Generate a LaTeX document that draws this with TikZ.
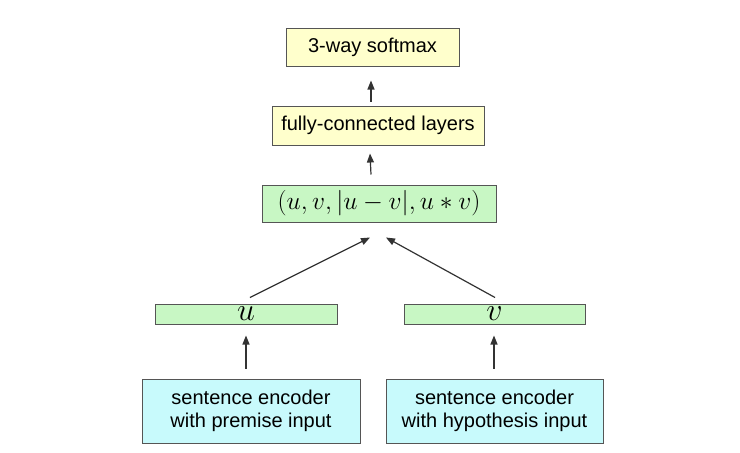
\RequirePackage{fix-cm}
\documentclass[tikz,border=0pt]{standalone}
\usepackage{fontspec}
\setmainfont{Liberation Sans}
\usetikzlibrary{arrows.meta}
\definecolor{boxyellow}{HTML}{FFFFCC}
\definecolor{boxgreen}{HTML}{C8F7C4}
\definecolor{boxcyan}{HTML}{C8FAFC}
\definecolor{edgegray}{HTML}{555555}
\definecolor{arrgray}{HTML}{333333}
\begin{document}
\begin{tikzpicture}[x=1pt,y=-1pt,
  box/.style={draw=edgegray, line width=1pt, inner sep=0pt, align=center,
    font=\fontsize{20}{23}\selectfont},
  ybox/.style={box, fill=boxyellow},
  gbox/.style={box, fill=boxgreen},
  cbox/.style={box, fill=boxcyan},
  arr/.style={draw=arrgray, line width=1.2pt, -{Triangle[length=9pt,width=7pt]}}]
\useasboundingbox[fill=white] (0,0) rectangle (740,453);
\node[ybox, minimum width=173pt, minimum height=38pt] (softmax) at (372.5,47) {3-way softmax};
\node[ybox, minimum width=212pt, minimum height=39pt] (fc) at (378,125.5) {fully-connected layers};
\node[gbox, minimum width=234pt, minimum height=37pt, font=\fontsize{25.5}{28}\selectfont] (triple) at (379,203.5) {$(u, v, |u-v|, u*v)$};
\node[gbox, minimum width=182pt, minimum height=20pt, font=\fontsize{32}{34}\selectfont] (u) at (246,314) {$u$};
\node[gbox, minimum width=181pt, minimum height=20pt, font=\fontsize{32}{34}\selectfont] (v) at (494.5,314) {$v$};
\node[cbox, minimum width=218pt, minimum height=64pt] (prem) at (251,411) {sentence encoder\\with premise input};
\node[cbox, minimum width=217pt, minimum height=64pt] (hyp) at (494.5,411) {sentence encoder\\with hypothesis input};
\draw[arr] ([shift={(-7,-4)}]fc.north) -- ([shift={(-1.5,14)}]softmax.south);
\draw[arr] ([shift={(-8,-10)}]triple.north) -- ([shift={(-8,8)}]fc.south);
\draw[arr] ([shift={(4,-6)}]u.north) -- ([shift={(-9,15)}]triple.south);
\draw[arr] ([shift={(0.5,-6)}]v.north) -- ([shift={(7,15)}]triple.south);
\draw[arr] ([shift={(-5,-10)}]prem.north) -- ([shift={(0,11)}]u.south);
\draw[arr] ([shift={(-0.5,-10)}]hyp.north) -- ([shift={(-0.5,11)}]v.south);
\end{tikzpicture}
\end{document}
